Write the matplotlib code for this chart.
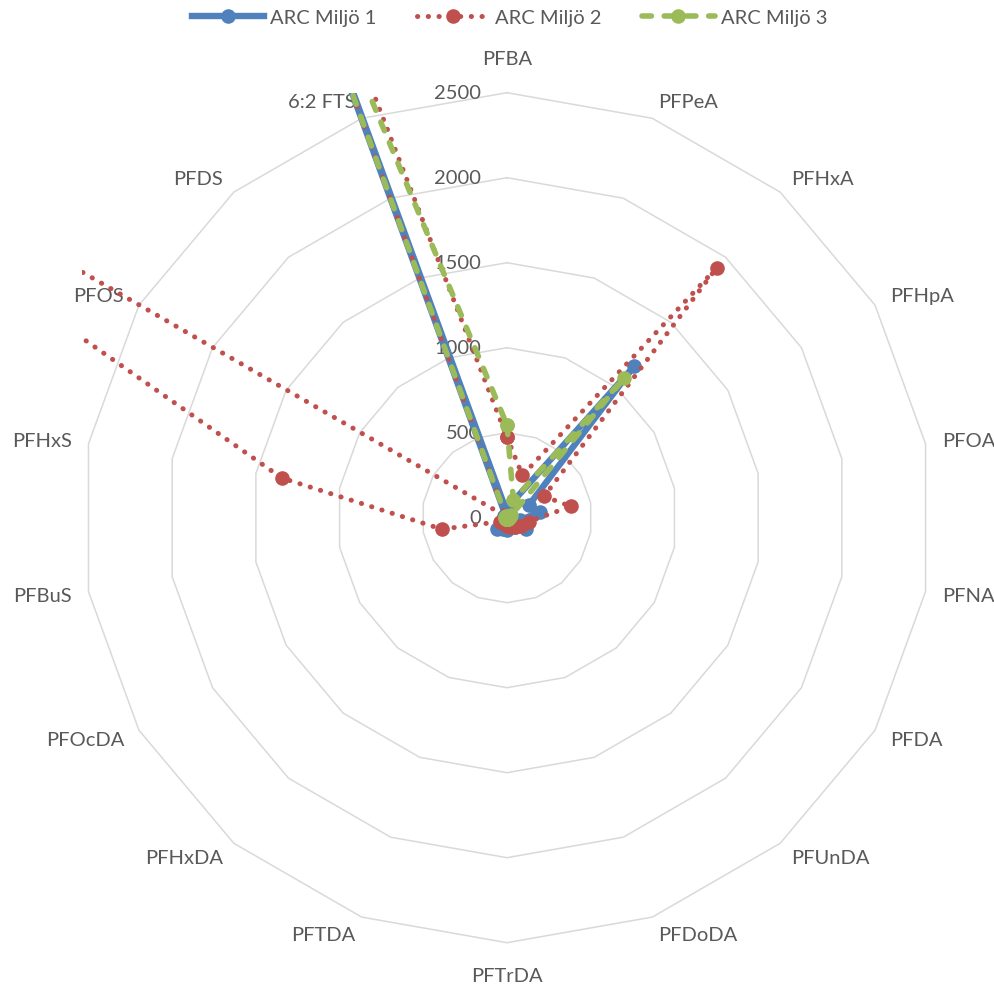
import numpy as np
import matplotlib
matplotlib.use('Agg')
import matplotlib.pyplot as plt
from matplotlib.lines import Line2D

plt.rcParams['font.family'] = ['Lato', 'DejaVu Sans']

categories = ['PFBA', 'PFPeA', 'PFHxA', 'PFHpA', 'PFOA', 'PFNA', 'PFDA', 'PFUnDA',
              'PFDoDA', 'PFTrDA', 'PFTDA', 'PFHxDA', 'PFOcDA', 'PFBuS', 'PFHxS',
              'PFOS', 'PFDS', '6:2 FTS']
series_names = ['ARC Miljö 1', 'ARC Miljö 2', 'ARC Miljö 3']
miljo1 = [30, 100, 1165, 150, 200, 80, 130, 70, 60, 70, 70, 90, 30, 10, 10, 20, 10, 5000]
miljo2 = [473, 265, 1921, 252, 381, 130, 94, 70, 60, 47, 40, 40, 45, 389, 1345, 6500, 10, 8000]
miljo3 = [545, 110, 1072, 30, 20, 10, 10, 10, 10, 10, 10, 10, 10, 10, 10, 10, 10, 4600]
ring_values = [500, 1000, 1500, 2000, 2500]
tick_values = [0, 500, 1000, 1500, 2000, 2500]

colors = ['#4F81BD', '#C0504D', '#9BBB59']
text_color = '#595959'
grid_color = '#D9D9D9'
FS = 14.5

W, H = 995, 988
fig = plt.figure(figsize=(W / 100, H / 100), dpi=100)
cx, cy, R = 507, 517.7, 425
ax = fig.add_axes([(cx - R) / W, (H - cy - R) / H, 2 * R / W, 2 * R / H], projection='polar')
ax.set_theta_zero_location('N')
ax.set_theta_direction(-1)
ax.set_ylim(0, 2500)
ax.grid(False)
ax.set_xticks([])
ax.set_yticks([])
ax.spines['polar'].set_visible(False)
ax.patch.set_alpha(0)

n = len(categories)
theta = np.deg2rad(np.arange(n) * 360.0 / n)
theta_c = np.append(theta, theta[0])

# polygon rings
for rv in ring_values:
    ax.plot(theta_c, [rv] * (n + 1), color=grid_color, lw=1.1, zorder=1, clip_on=False)

# tick labels
for tv in tick_values:
    ax.annotate(str(tv), xy=(0, tv), xytext=(-26, -1), textcoords='offset pixels',
                ha='right', va='center', fontsize=FS, color=text_color, zorder=2)

# category labels
for i, lab in enumerate(categories):
    a = theta[i]
    s, c = np.sin(a), np.cos(a)
    if abs(s) < 1e-6:
        dx, dy = 0, (33 if c > 0 else -34)
        ha = 'center'
    else:
        dx = 17 * s
        dy = 16.5 * c if c > 0 else 16.5 * c - 2.5
        ha = 'left' if s > 0 else 'right'
    ax.annotate(lab, xy=(a, 2500), xytext=(dx, dy), textcoords='offset pixels',
                ha=ha, va='center', fontsize=FS, color=text_color, annotation_clip=False)

series = [miljo1, miljo2, miljo3]
styles = [
    dict(linestyle='-', lw=4.6),
    dict(linestyle=(0, (0.05, 2.1)), lw=3.6, dash_capstyle='round'),
    dict(linestyle=(0, (1.7, 2.3)), lw=4.0, dash_capstyle='round'),
]
handles = []
for k, (vals, name) in enumerate(zip(series, series_names)):
    v = np.append(vals, vals[0])
    ln, = ax.plot(theta_c, v, color=colors[k], marker='o', markersize=10.5,
                  markeredgewidth=0, zorder=3 + k, solid_capstyle='round', **styles[k])
    ln.set_clip_path(None)
    ln.set_clip_box(ax.bbox)
    handles.append(Line2D([], [], color=colors[k], marker='o', markersize=10.5,
                          markeredgewidth=0, **styles[k]))

fig.legend(handles, series_names, loc='center', bbox_to_anchor=(0.512, 1 - 18 / H),
           ncol=3, frameon=False, fontsize=FS, handlelength=3.6, handletextpad=0.3,
           columnspacing=2.0, labelcolor=text_color, numpoints=1)

fig.savefig('out.png', dpi=100, facecolor='white')
